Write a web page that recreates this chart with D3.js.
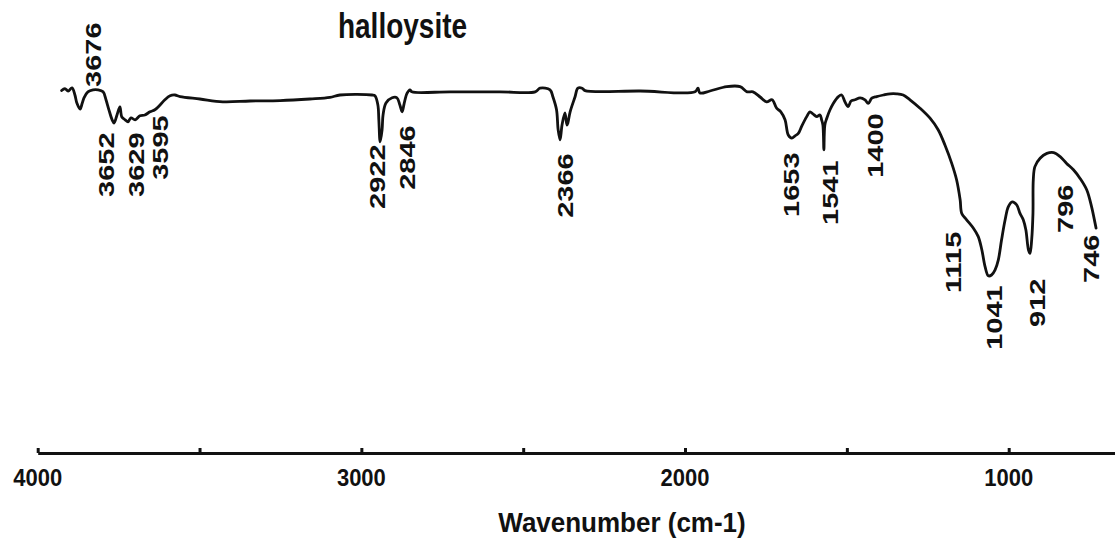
<!DOCTYPE html>
<html>
<head>
<meta charset="utf-8">
<script src="https://cdn.jsdelivr.net/npm/d3@7"></script>
<style>
  html, body { margin: 0; padding: 0; background: #fff; }
  svg text { font-family: "Liberation Sans", Arial, Helvetica, sans-serif; font-weight: bold; fill: #111; }
</style>
</head>
<body>
<svg id="chart" width="1115" height="538"></svg>
<script>
// FTIR spectrum of halloysite: wavenumber (cm-1) and relative transmittance
const wavenumber = [3926,3916,3906,3894,3885,3879,3869,3863,3857,3845,3829,3814,3798,3789,3780,3770,3764,3755,3746,3740,
  3730,3721,3712,3699,3684,3669,3653,3638,3622,3607,3591,3576,3560,3499,3428,3344,3251,3159,3097,3066,
  2967,2958,2949,2946,2942,2936,2933,2924,2905,2890,2881,2874,2868,2859,2850,2844,2726,2572,2463,2448,
  2417,2408,2397,2392,2386,2380,2371,2365,2362,2355,2340,2331,2318,2309,2139,1969,1960,1954,1923,1871,
  1830,1808,1790,1768,1748,1731,1717,1704,1691,1681,1670,1660,1650,1639,1624,1614,1605,1593,1583,1578,
  1574,1571,1568,1562,1552,1542,1526,1516,1506,1496,1487,1475,1459,1444,1434,1423,1408,1387,1367,1346,
  1326,1305,1274,1243,1218,1197,1176,1161,1150,1145,1130,1109,1094,1083,1073,1063,1053,1042,1032,1022,
  1011,1001,989,975,965,955,947,939,934,929,925,924,919,903,882,861,841,821,800,780,759,744,733,730];
const transmittance = [90.6,91.1,90.5,91.3,89.5,87.5,86.0,87.3,88.8,90.3,90.8,90.8,90.3,88.3,85.8,83.3,82.5,84.5,86.5,84.0,
  83.3,82.8,83.8,83.3,84.3,84.5,85.3,85.8,87.0,88.3,89.3,89.5,89.1,88.5,87.8,88.0,88.1,88.5,88.9,89.5,
  89.5,89.3,87.0,83.3,77.8,80.8,84.5,87.5,88.8,88.8,87.0,85.3,87.3,89.9,90.8,90.3,90.3,90.3,90.3,91.2,
  90.8,89.0,85.8,80.8,78.3,82.0,85.0,82.0,82.5,85.3,89.0,91.2,91.2,90.6,90.5,90.3,91.2,90.0,90.5,91.6,
  91.6,90.3,90.3,89.0,87.8,88.3,86.2,85.3,83.3,79.5,78.7,79.3,79.9,81.8,84.1,85.3,84.8,84.1,84.5,83.3,
  82.0,75.8,82.0,83.7,85.8,87.4,89.1,89.5,87.8,86.6,88.0,88.3,88.8,88.3,87.4,88.7,89.1,89.5,89.8,89.8,
  89.5,88.3,86.2,83.7,80.8,77.0,72.4,68.3,63.3,59.9,58.3,56.2,54.1,50.8,46.6,44.3,44.5,45.8,48.3,53.3,
  58.3,61.6,62.8,62.0,59.9,58.3,55.8,50.8,49.9,53.3,59.9,68.3,71.6,73.7,74.9,75.1,74.1,72.4,70.8,68.7,
  65.8,61.6,57.4,56.2];

// Band annotations: label text, where the label stands (wavenumber) and the level its foot sits at
const peakLabels = ["3676","3652","3629","3595","2922","2846","2366","1653","1541","1400","1115","1041","912","796","746"];
const peakLabelAt = [3829,3789,3696,3622,2952,2859,2371,1673,1552,1413,1172,1045,913,826,746];
const peakLabelLevel = [91.5,64,64,68.3,61,65.8,58.8,59,57,68.8,40,25.8,31.5,55,42.5];

const xTicks = [4000,3500,3000,2500,2000,1500,1000];
const xTickLabels = ["4000","3000","2000","1000"];
const chartTitle = "halloysite";
const xAxisTitle = "Wavenumber (cm-1)";

const svg = d3.select("#chart");
const axisY = 453;

const x = d3.scaleLinear().domain([4000, 670]).range([37.7, 1115.5]);
const y = d3.scaleLinear().domain([0, 100]).range([453, 53]);

// axis line with short upward ticks
const axis = d3.axisBottom(x)
  .tickValues(xTicks)
  .tickSizeInner(-5)
  .tickSizeOuter(0)
  .tickFormat("");
const gAxis = svg.append("g").attr("transform", `translate(0,${axisY})`).call(axis);
gAxis.select(".domain").attr("stroke", "#111").attr("stroke-width", 3);
gAxis.selectAll(".tick line").attr("stroke", "#111").attr("stroke-width", 3);

svg.append("g").selectAll("text")
  .data(xTickLabels)
  .join("text")
  .attr("text-anchor", "middle")
  .attr("font-size", 22)
  .attr("transform", d => `translate(${x(+d)},485.5) scale(1,1.12)`)
  .text(d => d);

svg.append("text")
  .attr("text-anchor", "middle")
  .attr("font-size", 26)
  .attr("transform", "translate(622,531.5) scale(1,1.07)")
  .text(xAxisTitle);

svg.append("text")
  .attr("text-anchor", "middle")
  .attr("font-size", 28)
  .attr("transform", "translate(402.5,38) scale(1,1.27)")
  .text(chartTitle);

// spectrum trace
const pts = wavenumber.map((w, i) => [w, transmittance[i]]);
const line = d3.line()
  .x(d => x(d[0]))
  .y(d => y(d[1]))
  .curve(d3.curveCatmullRom.alpha(0.5));

svg.append("path")
  .datum(pts)
  .attr("fill", "none")
  .attr("stroke", "#111")
  .attr("stroke-width", 2.8)
  .attr("stroke-linejoin", "round")
  .attr("stroke-linecap", "round")
  .attr("d", line);

// rotated band labels reading bottom to top
svg.append("g").selectAll("text")
  .data(peakLabels)
  .join("text")
  .attr("font-size", 22.5)
  .attr("text-anchor", "start")
  .attr("dy", "0.36em")
  .attr("transform", (d, i) => `translate(${x(peakLabelAt[i])},${y(peakLabelLevel[i])}) scale(1,1.29) rotate(-90)`)
  .text(d => d);
</script>
</body>
</html>
